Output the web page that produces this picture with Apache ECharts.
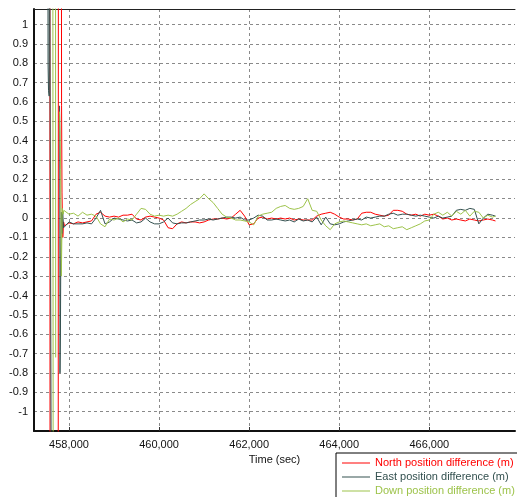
<!DOCTYPE html>
<html>
<head>
<meta charset="utf-8">
<script src="https://cdn.jsdelivr.net/npm/echarts@6/dist/echarts.min.js"></script>
<style>
html,body{margin:0;padding:0;background:#fff;}
#chart{width:517px;height:497px;}
</style>
</head>
<body>
<div id="chart"></div>
<script>
// ---- data ----
const seriesNames = ['North position difference (m)', 'East position difference (m)', 'Down position difference (m)'];
const seriesColors = ['#ff0000', '#33504f', '#9dc34a'];
const xTickValues = [458000, 460000, 462000, 464000, 466000];

// initial convergence transient (values beyond +/-1.08 run off the plot)
const northStartTimes = [457575, 457580, 457760, 457765, 457830, 457835, 457845, 457862, 457880];
const northStartValues = [2, -2, -2, 2, 2, 0.58, 0.13, -0.1, -0.02];
const eastStartTimes = [457530, 457535, 457545, 457560, 457565, 457608, 457613, 457650, 457790, 457795, 457800, 457810, 457818, 457830, 457845, 457860, 457880];
const eastStartValues = [2, 0.8, 0.66, 0.63, 2, 2, -2, null, 0.58, 0.45, -0.8, -0.6, -0.18, 0.03, -0.08, 0.03, -0.05];
const downStartTimes = [457640, 457650, 457670, 457700, 457705, 457715, 457790, 457800, 457815, 457830, 457850, 457870, 457885];
const downStartValues = [2, -2, null, 2, -0.72, null, 0.55, 0.45, 0.25, -0.3, 0.05, 0.02, 0.04];

// steady-state samples
const sampleTimes = [
 457900,458000,458100,458200,458300,458400,458500,458600,458700,458800,458900,
 459000,459100,459200,459300,459400,459500,459600,459700,459800,459900,
 460000,460100,460200,460300,460400,460500,460600,460700,460800,460900,
 461000,461100,461200,461300,461400,461500,461600,461700,461800,461900,
 462000,462100,462200,462300,462400,462500,462600,462700,462800,462900,
 463000,463100,463200,463300,463400,463500,463600,463700,463800,463900,
 464000,464100,464200,464300,464400,464500,464600,464700,464800,464900,
 465000,465100,465200,465300,465400,465500,465600,465700,465800,465900,
 466000,466100,466200,466300,466400,466500,466600,466700,466800,466900,
 467000,467100,467200,467300,467400,467470
];
const northValues = [
 -0.04,-0.025,-0.03,-0.02,-0.025,-0.02,-0.015,0.02,0.03,0.01,0.005,
 0.01,0.005,0.015,0.015,0.02,-0.005,-0.01,0.005,0.01,0.005,
 0.0,-0.01,-0.05,-0.055,-0.03,-0.02,-0.025,-0.02,-0.02,-0.025,
 -0.02,-0.01,-0.005,-0.005,0.0,-0.005,0.0,0.02,0.04,0.01,
 -0.035,-0.03,0.0,0.005,-0.005,0.0,-0.005,0.0,-0.005,0.0,
 -0.01,-0.005,-0.01,-0.01,-0.01,0.01,0.02,0.025,0.03,0.02,
 0.005,-0.005,-0.005,-0.01,-0.005,0.025,0.03,0.03,0.02,0.015,
 0.01,0.015,0.04,0.04,0.035,0.02,0.015,0.02,0.01,0.02,
 0.015,0.02,0.01,-0.005,0.0,-0.01,-0.005,-0.01,-0.015,-0.005,
 -0.01,-0.015,-0.01,-0.005,-0.01,-0.015
];
const eastValues = [
 -0.05,-0.02,-0.03,-0.03,-0.03,-0.025,-0.03,0.0,0.04,-0.03,-0.02,
 0.0,-0.005,-0.01,-0.015,-0.01,-0.025,-0.02,0.0,-0.02,-0.03,
 -0.03,-0.02,0.0,-0.025,-0.03,-0.025,-0.025,-0.02,-0.015,-0.01,
 -0.01,-0.005,-0.01,-0.005,0.0,0.005,0.005,0.0,0.005,-0.01,
 -0.01,0.0,0.015,0.01,-0.01,-0.01,-0.005,-0.01,-0.015,-0.01,
 -0.02,-0.005,-0.015,-0.01,-0.02,0.005,-0.035,0.005,-0.03,-0.035,
 -0.03,-0.02,-0.015,-0.01,-0.005,-0.01,0.005,0.0,0.005,0.01,
 0.01,0.02,0.025,0.015,0.02,0.02,0.015,0.01,0.015,0.01,
 0.005,0.0,0.01,0.0,0.005,0.01,0.04,0.045,0.04,0.05,
 0.045,-0.03,0.0,0.02,0.015,0.01
];
const downValues = [
 0.03,0.02,0.025,0.01,0.03,0.015,0.02,0.01,-0.03,-0.045,-0.005,
 -0.01,0.0,-0.02,-0.005,-0.01,0.02,0.05,0.045,0.02,0.01,
 0.015,0.01,0.015,0.01,0.02,0.035,0.05,0.07,0.085,0.1,
 0.125,0.1,0.08,0.05,0.02,0.005,0.0,-0.01,-0.01,-0.015,
 -0.02,-0.035,0.01,0.02,0.025,0.03,0.05,0.06,0.065,0.05,
 0.045,0.05,0.06,0.1,0.04,0.035,-0.01,-0.04,-0.06,-0.03,
 -0.02,-0.015,-0.02,-0.025,-0.03,-0.035,-0.03,-0.04,-0.035,-0.03,
 -0.045,-0.04,-0.055,-0.05,-0.045,-0.06,-0.05,-0.04,-0.03,-0.015,
 -0.01,0.02,0.03,0.015,0.03,0.01,0.035,0.02,0.04,0.01,
 0.035,0.03,0.0,0.015,0.005,0.01
];

const xMin = 457223, xMax = 467903;
const yMin = -1.1, yMax = 1.08, yInterval = 0.1;

function pairs(ts, vs) { return ts.map((t, i) => [t, vs[i]]); }
const seriesData = [
  pairs(northStartTimes, northStartValues).concat(pairs(sampleTimes, northValues)),
  pairs(eastStartTimes, eastStartValues).concat(pairs(sampleTimes, eastValues)),
  pairs(downStartTimes, downStartValues).concat(pairs(sampleTimes, downValues))
];

const font = 'Liberation Sans, Arial, sans-serif';
const gridDash = {color: '#8a8a8a', type: [3, 3], width: 1};
const chart = echarts.init(document.getElementById('chart'), null, {renderer: 'canvas'});

chart.setOption({
  animation: false,
  backgroundColor: '#ffffff',
  grid: {left: 34, right: 2, top: 9, bottom: 66, containLabel: false},
  xAxis: [{
    type: 'value', min: xMin, max: xMax,
    name: 'Time (sec)', nameLocation: 'middle', nameGap: 22,
    nameTextStyle: {fontFamily: font, fontSize: 11, color: '#111'},
    axisLine: {show: true, onZero: false, lineStyle: {color: '#111', width: 2}},
    axisTick: {show: true, inside: true, length: 4, customValues: xTickValues, lineStyle: {color: '#333'}},
    axisLabel: {
      fontFamily: font, fontSize: 11, color: '#111', margin: 8,
      customValues: xTickValues,
      formatter: v => Math.round(v).toLocaleString('en-US')
    },
    splitLine: {show: true, lineStyle: gridDash}
  }, {
    type: 'value', position: 'top', min: xMin, max: xMax,
    axisLine: {show: true, onZero: false, lineStyle: {color: '#222', width: 1}},
    axisTick: {show: false}, axisLabel: {show: false}, splitLine: {show: false}
  }],
  yAxis: {
    type: 'value', min: yMin, max: yMax, interval: yInterval,
    axisLine: {show: true, onZero: false, lineStyle: {color: '#111', width: 2}},
    axisTick: {show: false},
    axisLabel: {
      fontFamily: font, fontSize: 11, color: '#111', margin: 6,
      showMinLabel: false, showMaxLabel: false,
      formatter: v => {
        const r = Math.round(v * 10) / 10;
        if (r > 1.0001 || r < -1.0001) return '';
        return (r === 0 ? 0 : r).toString();
      }
    },
    splitLine: {show: true, lineStyle: gridDash}
  },
  legend: {
    orient: 'vertical', left: 336, top: 453, width: 200, height: 60,
    padding: [3, 6, 3, 6], itemGap: 0, itemWidth: 28, itemHeight: 1,
    icon: 'rect',
    backgroundColor: '#ffffff', borderColor: '#000', borderWidth: 1,
    textStyle: {fontFamily: font, fontSize: 11, lineHeight: 14},
    data: seriesNames.map((n, i) => ({name: n, textStyle: {color: seriesColors[i]}}))
  },
  series: seriesNames.map((n, i) => ({
    name: n, type: 'line', xAxisIndex: 0, yAxisIndex: 0, data: seriesData[i],
    showSymbol: false, symbol: 'none', clip: true, connectNulls: false,
    color: seriesColors[i],
    lineStyle: {color: seriesColors[i], width: 1}
  }))
});
</script>
</body>
</html>
